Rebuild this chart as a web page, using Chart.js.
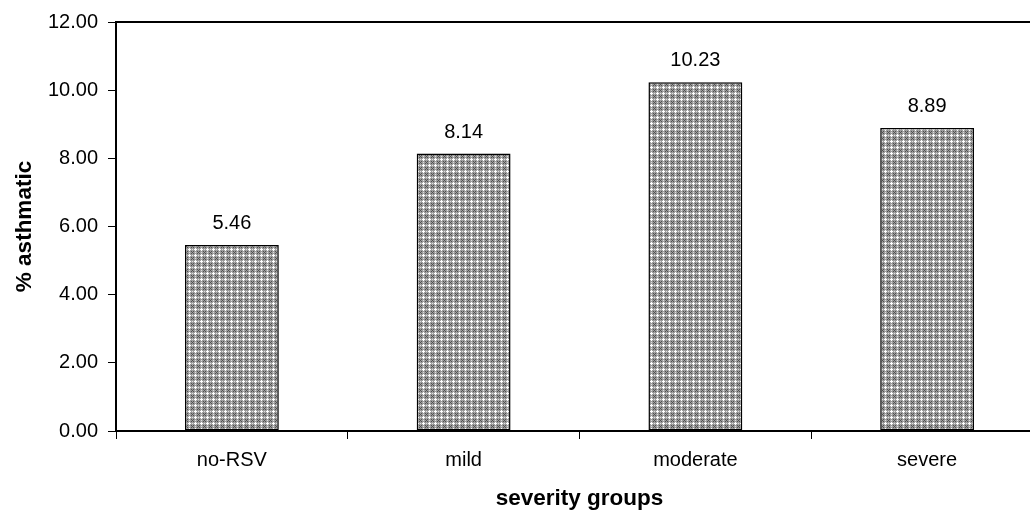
<!DOCTYPE html>
<html>
<head>
<meta charset="utf-8">
<script src="https://cdn.jsdelivr.net/npm/chart.js@4.4.1/dist/chart.umd.min.js"></script>
<style>
html, body { margin:0; padding:0; background:#fff; overflow:hidden; width:1030px; height:514px; }
#wrap { position:absolute; left:0; top:0; width:1043px; height:514px; }
</style>
</head>
<body>
<div id="wrap"><canvas id="c" width="1043" height="514"></canvas></div>
<script>
const categories = ["no-RSV", "mild", "moderate", "severe"];
const asthmaticPct = [5.46, 8.14, 10.23, 8.89];
const yTicks = [0, 2, 4, 6, 8, 10, 12];
const xTitle = "severity groups";
const yTitle = "% asthmatic";

const FONT = "'Liberation Sans', Arial, sans-serif";

function makePattern() {
  const t = document.createElement('canvas');
  t.width = 6; t.height = 6;
  const g = t.getContext('2d');
  g.fillStyle = '#9c9c9c';
  g.fillRect(0, 0, 6, 6);
  g.fillStyle = '#ffffff';
  [[3,2],[2,3],[3,3],[4,3],[3,4]].forEach(p => g.fillRect(p[0], p[1], 1, 1));
  g.fillStyle = '#e0e0e0';
  [[0,3],[3,0]].forEach(p => g.fillRect(p[0], p[1], 1, 1));
  g.fillStyle = '#505050';
  [[0,0],[1,1],[5,5],[1,5],[5,1]].forEach(p => g.fillRect(p[0], p[1], 1, 1));
  return g.createPattern(t, 'repeat');
}

const topBorder = {
  id: 'topBorder',
  afterDraw(chart) {
    const {ctx, chartArea} = chart;
    ctx.save();
    ctx.strokeStyle = '#000';
    ctx.lineWidth = 2;
    ctx.beginPath();
    ctx.moveTo(chartArea.left - 1, chartArea.top);
    ctx.lineTo(chartArea.right + 10, chartArea.top);
    ctx.stroke();
    ctx.restore();
  }
};

const valueLabels = {
  id: 'valueLabels',
  afterDatasetsDraw(chart) {
    const {ctx} = chart;
    const meta = chart.getDatasetMeta(0);
    ctx.save();
    ctx.fillStyle = '#000';
    ctx.font = "20px " + FONT;
    ctx.textAlign = 'center';
    ctx.textBaseline = 'alphabetic';
    meta.data.forEach((bar, i) => {
      ctx.fillText(asthmaticPct[i].toFixed(2), bar.x, bar.y - 16);
    });
    ctx.restore();
  }
};

new Chart(document.getElementById('c'), {
  type: 'bar',
  data: {
    labels: categories,
    datasets: [{
      data: asthmaticPct,
      backgroundColor: makePattern(),
      borderColor: '#000',
      borderWidth: 1.5,
      borderSkipped: false,
      categoryPercentage: 1.0,
      barPercentage: 0.405
    }]
  },
  options: {
    responsive: false,
    animation: false,
    devicePixelRatio: 1,
    layout: { padding: { top: 21, right: 0, left: 0, bottom: 0 } },
    plugins: { legend: { display: false }, tooltip: { enabled: false } },
    scales: {
      x: {
        offset: true,
        grid: { display: true, drawOnChartArea: false, drawTicks: true, tickLength: 8, tickColor: '#000', offset: true, lineWidth: 1 },
        border: { display: true, color: '#000', width: 2 },
        ticks: { color: '#000', font: { family: FONT, size: 20 }, padding: 9 },
        title: { display: true, text: xTitle, color: '#000', font: { family: FONT, size: 22.5, weight: 'bold' }, padding: { top: 0, bottom: 1.5 } },
        afterFit(s) { s.height = 83; }
      },
      y: {
        min: 0, max: 12,
        afterBuildTicks(s) { s.ticks = yTicks.map(v => ({ value: v })); },
        grid: { display: true, drawOnChartArea: false, drawTicks: true, tickLength: 8, tickColor: '#000', lineWidth: 1 },
        border: { display: true, color: '#000', width: 2 },
        ticks: { color: '#000', font: { family: FONT, size: 20 }, padding: 10, callback: v => Number(v).toFixed(2) },
        title: { display: true, text: yTitle, color: '#000', font: { family: FONT, size: 22.5, weight: 'bold' }, padding: { top: 11.5, bottom: 0 } },
        afterFit(s) { s.width = 116; }
      }
    }
  },
  plugins: [topBorder, valueLabels]
});
</script>
</body>
</html>
